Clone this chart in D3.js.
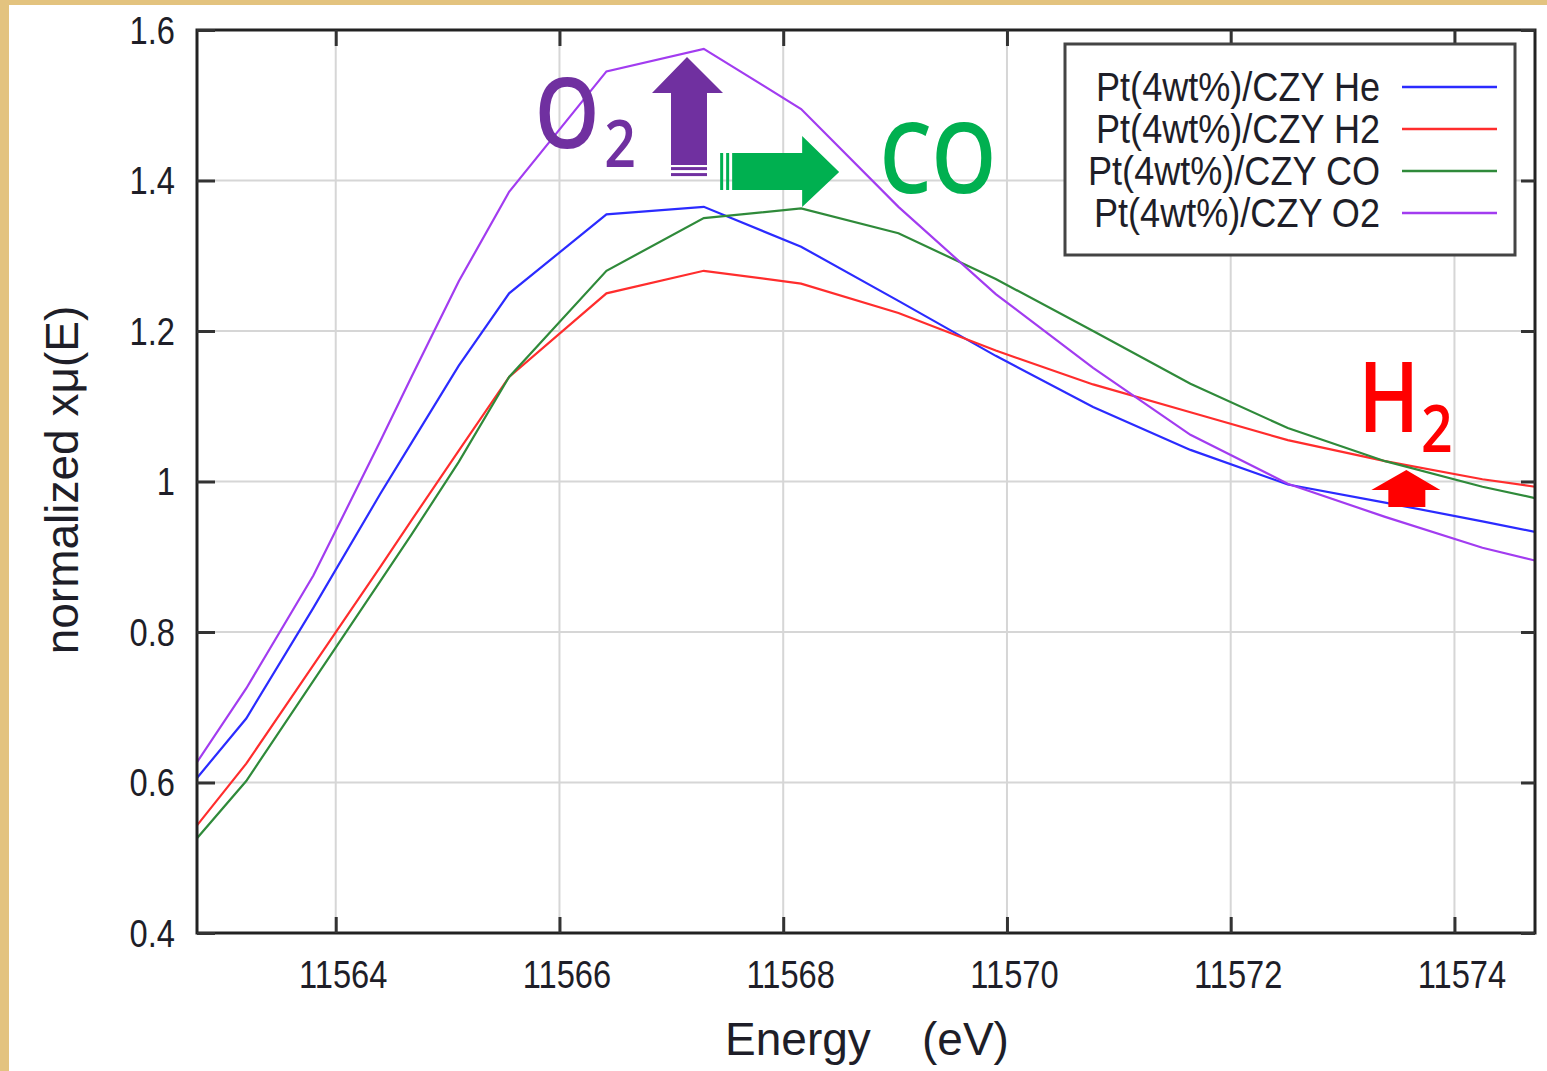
<!DOCTYPE html>
<meta charset="utf-8">
<style>
  body { margin: 0; background: #fff; }
  svg { display: block; }
  .grid line { stroke: #d6d6d6; stroke-width: 2px; }
  .axis path { display: none; }
  .axis line { stroke: #333; stroke-width: 3px; }
  .axis text, .legend text, .title { font-family: "Liberation Sans", Arial, sans-serif; fill: #1e1e28; }
  .note { font-family: "Open Sans", "Noto Sans", sans-serif; font-weight: 600; }
</style>
<svg width="1547" height="1071"></svg>
<script src="https://d3js.org/d3.v7.min.js"></script>
<script>

    // energy grid (eV)
    var energy = [11562.76, 11563.2, 11563.8, 11564.4, 11564.68, 11565.1, 11565.55, 11566.42, 11567.29,
        11568.16, 11569.03, 11569.9, 11570.77, 11571.64, 11572.51, 11573.38, 11574.25, 11574.72];

    var heVals = [0.606, 0.685, 0.832, 0.984, 1.052, 1.154, 1.25, 1.355, 1.365,
        1.312, 1.24, 1.167, 1.099, 1.042, 0.996, 0.972, 0.947, 0.933];
    var h2Vals = [0.543, 0.625, 0.756, 0.887, 0.949, 1.041, 1.139, 1.25, 1.28,
        1.263, 1.224, 1.174, 1.129, 1.092, 1.055, 1.027, 1.003, 0.993];
    var coVals = [0.526, 0.602, 0.735, 0.868, 0.93, 1.026, 1.139, 1.28, 1.35,
        1.363, 1.33, 1.269, 1.20, 1.13, 1.071, 1.027, 0.993, 0.978];
    var o2Vals = [0.627, 0.725, 0.875, 1.054, 1.14, 1.266, 1.385, 1.545, 1.575,
        1.495, 1.365, 1.249, 1.151, 1.062, 0.997, 0.953, 0.912, 0.895];

    var seriesNames = ["Pt(4wt%)/CZY He", "Pt(4wt%)/CZY H2", "Pt(4wt%)/CZY CO", "Pt(4wt%)/CZY O2"];
    var seriesColors = ["#2b2bff", "#ff2d2d", "#2f8a3a", "#a23cf0"];
    var seriesVals = [heVals, h2Vals, coVals, o2Vals];

    var xTicks = [11564, 11566, 11568, 11570, 11572, 11574];
    var yTicks = [0.4, 0.6, 0.8, 1.0, 1.2, 1.4, 1.6];

    var svg = d3.select("svg"),
        width = +svg.attr("width"),
        height = +svg.attr("height");

    var margin = {left: 197, right: 12, top: 30, bottom: 138};
    var x = d3.scaleLinear().domain([11562.76, 11574.72]).range([margin.left, width - margin.right]);
    var y = d3.scaleLinear().domain([0.4, 1.6]).range([height - margin.bottom, margin.top]);
    var squeeze = 0.86;

    // tan frame of the original slide
    svg.append("rect").attr("x", 0).attr("y", 0).attr("width", 9).attr("height", height).attr("fill", "#e3c37f");
    svg.append("rect").attr("x", 0).attr("y", 0).attr("width", width).attr("height", 5).attr("fill", "#e3c37f");

    var grid = svg.append("g").attr("class", "grid");
    grid.selectAll(".gx").data(xTicks).enter().append("line")
        .attr("x1", x).attr("x2", x).attr("y1", y(1.6)).attr("y2", y(0.4));
    grid.selectAll(".gy").data(yTicks.slice(1, -1)).enter().append("line")
        .attr("x1", x.range()[0]).attr("x2", x.range()[1]).attr("y1", y).attr("y2", y);

    svg.append("clipPath").attr("id", "plot").append("rect")
        .attr("x", x.range()[0]).attr("y", y.range()[1])
        .attr("width", x.range()[1] - x.range()[0]).attr("height", y.range()[0] - y.range()[1]);

    var line = d3.line()
        .x(function (d) { return x(d[0]); })
        .y(function (d) { return y(d[1]); });

    svg.append("g").attr("clip-path", "url(#plot)")
        .selectAll("path")
        .data(seriesVals)
        .enter().append("path")
        .attr("fill", "none")
        .attr("stroke", function (d, i) { return seriesColors[i]; })
        .attr("stroke-width", 2.2)
        .attr("d", function (vals) {
            return line(energy.map(function (e, j) { return [e, vals[j]]; }));
        });

    // annotations: arrows and gas labels
    function at(e, v) { return "translate(" + x(e) + "," + y(v) + ")"; }

    var o2Arrow = svg.append("g").attr("transform", at(11567.14, 1.564)).attr("fill", "#7030a0");
    o2Arrow.append("path").attr("d", "M0,0L36,36L20,36L20,108L-16,108L-16,36L-35,36Z");
    o2Arrow.append("rect").attr("x", -16).attr("y", 110).attr("width", 36).attr("height", 3);
    o2Arrow.append("rect").attr("x", -16).attr("y", 116).attr("width", 36).attr("height", 3);

    var coArrow = svg.append("g").attr("transform", at(11568.5, 1.4113)).attr("fill", "#00b050");
    coArrow.append("path").attr("d", "M0,0L-37,-36L-37,-19L-107,-19L-107,18L-37,18L-37,35Z");
    coArrow.append("rect").attr("x", -113).attr("y", -19).attr("width", 3).attr("height", 37);
    coArrow.append("rect").attr("x", -119).attr("y", -19).attr("width", 3).attr("height", 37);

    var h2Arrow = svg.append("g").attr("transform", at(11573.57, 1.0153)).attr("fill", "#ff0000");
    h2Arrow.append("path").attr("d", "M0,0L34,20L19,20L19,37L-18,37L-18,20L-35,20Z");

    var notes = [
        {t: "O", e: 11565.78, v: 1.4432, size: 98, c: "#7030a0"},
        {t: "2", e: 11566.4, v: 1.418, size: 66, c: "#7030a0"},
        {t: "CO", e: 11568.86, v: 1.3834, size: 98, c: "#00b050"},
        {t: "H", e: 11573.14, v: 1.0658, size: 97, c: "#ff0000"},
        {t: "2", e: 11573.7, v: 1.0392, size: 66, c: "#ff0000"}
    ];
    svg.selectAll(".note").data(notes).enter().append("text")
        .attr("class", "note")
        .attr("transform", function (d) { return at(d.e, d.v) + " scale(0.84,1)"; })
        .attr("font-size", function (d) { return d.size; })
        .attr("fill", function (d) { return d.c; })
        .text(function (d) { return d.t; });

    // frame and inward ticks on all sides
    svg.append("rect")
        .attr("x", x.range()[0]).attr("y", y.range()[1])
        .attr("width", x.range()[1] - x.range()[0]).attr("height", y.range()[0] - y.range()[1])
        .attr("fill", "none").attr("stroke", "#222").attr("stroke-width", 3);

    var xAxis = svg.append("g").attr("class", "axis")
        .attr("transform", "translate(0," + y.range()[0] + ")")
        .call(d3.axisBottom(x).tickValues(xTicks).tickSize(-16).tickPadding(0).tickFormat(d3.format("d")));
    xAxis.selectAll("text")
        .attr("y", 0).attr("dy", 0)
        .attr("transform", "translate(7,55) scale(" + squeeze + ",1)")
        .attr("font-size", 38);

    svg.append("g").attr("class", "axis")
        .attr("transform", "translate(0," + y.range()[1] + ")")
        .call(d3.axisTop(x).tickValues(xTicks).tickSize(-16).tickFormat(""));

    var yAxis = svg.append("g").attr("class", "axis")
        .attr("transform", "translate(" + x.range()[0] + ",0)")
        .call(d3.axisLeft(y).tickValues(yTicks).tickSize(-18).tickPadding(0).tickFormat(d3.format("~g")));
    yAxis.selectAll("text")
        .attr("x", 0).attr("dy", 0)
        .attr("transform", "translate(-22,13) scale(" + squeeze + ",1)")
        .attr("font-size", 38);

    svg.append("g").attr("class", "axis")
        .attr("transform", "translate(" + x.range()[1] + ",0)")
        .call(d3.axisRight(y).tickValues(yTicks).tickSize(-14).tickFormat(""));

    svg.append("text").attr("class", "title")
        .attr("x", (x.range()[0] + x.range()[1]) / 2 + 1).attr("y", 1055)
        .attr("text-anchor", "middle").attr("font-size", 46)
        .attr("xml:space", "preserve")
        .text("Energy    (eV)");

    svg.append("text").attr("class", "title")
        .attr("transform", "translate(78,480) rotate(-90)")
        .attr("text-anchor", "middle").attr("font-size", 46)
        .text("normalized xμ(E)");

    // legend
    var legend = svg.append("g").attr("class", "legend");
    legend.append("rect")
        .attr("x", 1065).attr("y", 44).attr("width", 450).attr("height", 211)
        .attr("fill", "#fff").attr("stroke", "#444").attr("stroke-width", 3);
    var item = legend.selectAll(".item").data(seriesNames).enter().append("g")
        .attr("transform", function (d, i) { return "translate(0," + (87 + i * 42) + ")"; });
    item.append("text")
        .attr("transform", "translate(1380,14) scale(0.88,1)")
        .attr("text-anchor", "end").attr("font-size", 41)
        .text(function (d) { return d; });
    item.append("line")
        .attr("x1", 1402).attr("x2", 1497)
        .attr("stroke", function (d, i) { return seriesColors[i]; })
        .attr("stroke-width", 2.5);

</script>
